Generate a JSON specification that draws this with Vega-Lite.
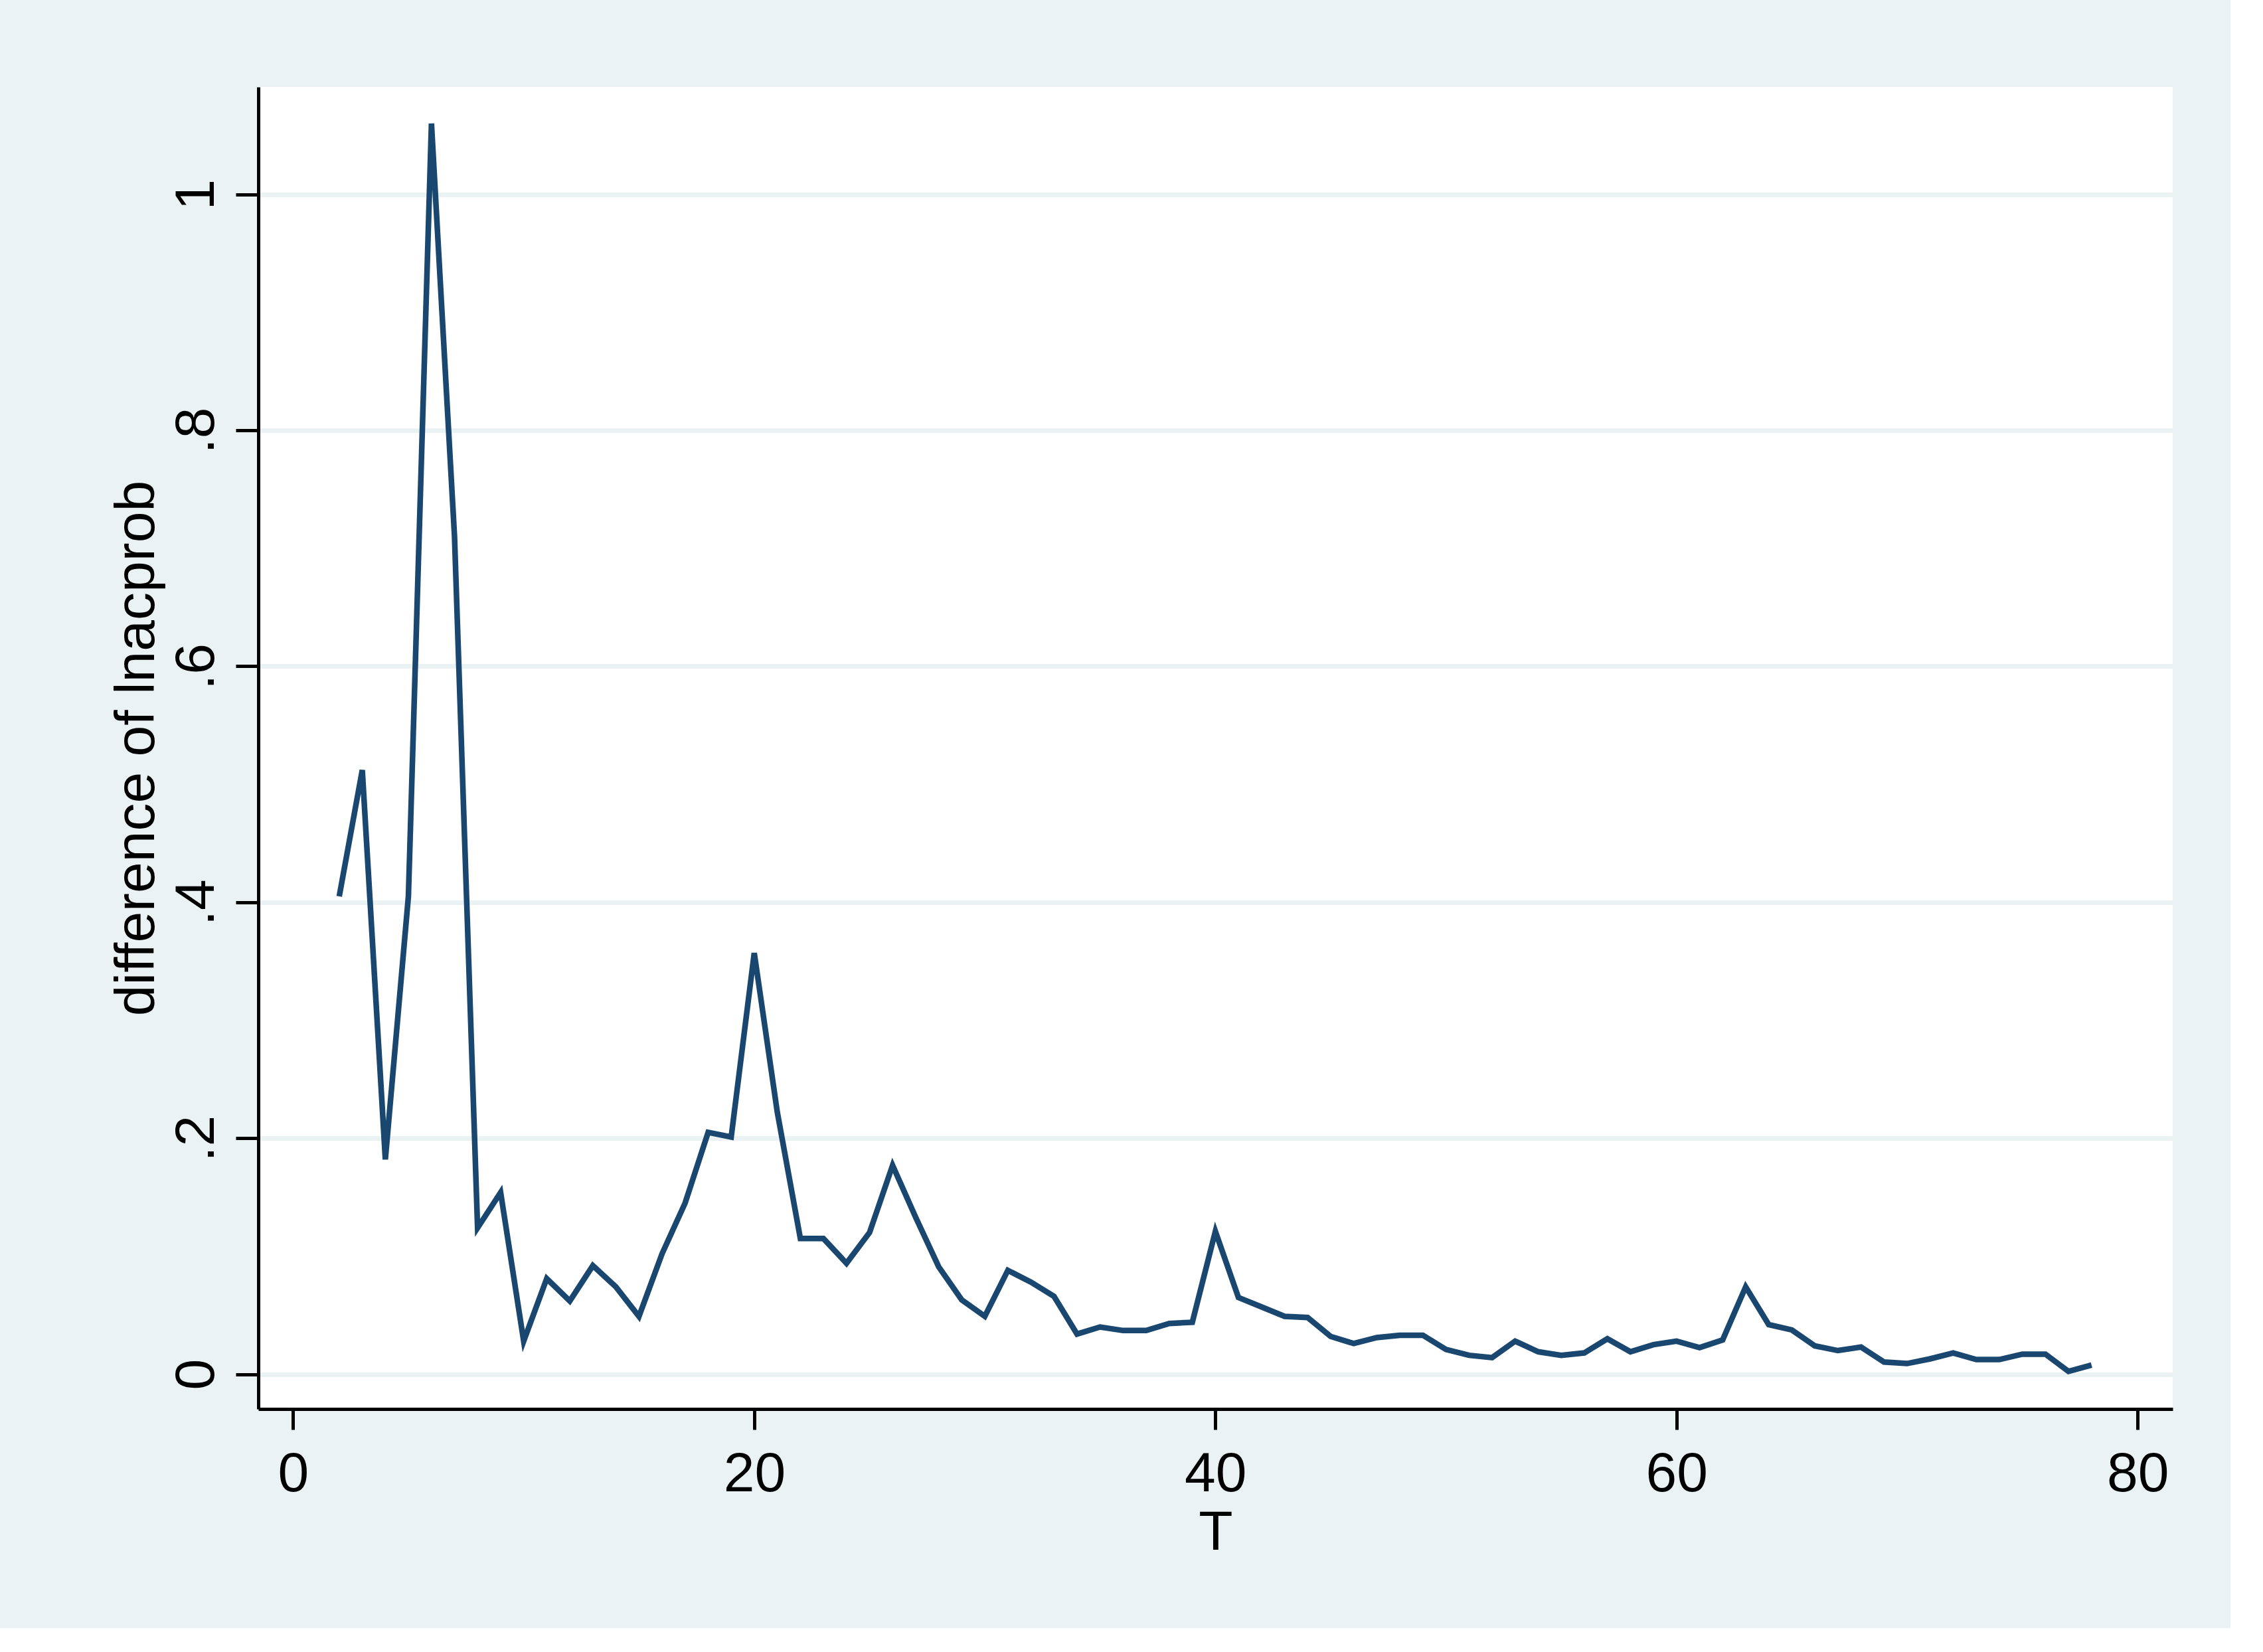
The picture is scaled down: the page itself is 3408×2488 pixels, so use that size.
{
  "$schema": "https://vega.github.io/schema/vega-lite/v6.json",
  "width": 2883,
  "height": 1991,
  "autosize": {"type": "none"},
  "padding": {"left": 389, "top": 131, "right": 87, "bottom": 330},
  "background": "#EAF2F3",
  "config": {
    "view": {"fill": "white", "stroke": null},
    "font": "Liberation Sans"
  },
  "data": {
    "values": [
      {"T": 2, "d": 0.405}, {"T": 3, "d": 0.512}, {"T": 4, "d": 0.182}, {"T": 5, "d": 0.405},
      {"T": 6, "d": 1.06}, {"T": 7, "d": 0.71}, {"T": 8, "d": 0.124}, {"T": 9, "d": 0.154},
      {"T": 10, "d": 0.028}, {"T": 11, "d": 0.081}, {"T": 12, "d": 0.062}, {"T": 13, "d": 0.092},
      {"T": 14, "d": 0.074}, {"T": 15, "d": 0.049}, {"T": 16, "d": 0.102}, {"T": 17, "d": 0.145},
      {"T": 18, "d": 0.205}, {"T": 19, "d": 0.201}, {"T": 20, "d": 0.357}, {"T": 21, "d": 0.222},
      {"T": 22, "d": 0.115}, {"T": 23, "d": 0.115}, {"T": 24, "d": 0.094}, {"T": 25, "d": 0.12},
      {"T": 26, "d": 0.177}, {"T": 27, "d": 0.133}, {"T": 28, "d": 0.091}, {"T": 29, "d": 0.063},
      {"T": 30, "d": 0.049}, {"T": 31, "d": 0.088}, {"T": 32, "d": 0.078}, {"T": 33, "d": 0.066},
      {"T": 34, "d": 0.034}, {"T": 35, "d": 0.04}, {"T": 36, "d": 0.037}, {"T": 37, "d": 0.037},
      {"T": 38, "d": 0.043}, {"T": 39, "d": 0.044}, {"T": 40, "d": 0.121}, {"T": 41, "d": 0.065},
      {"T": 42, "d": 0.057}, {"T": 43, "d": 0.049}, {"T": 44, "d": 0.048}, {"T": 45, "d": 0.032},
      {"T": 46, "d": 0.026}, {"T": 47, "d": 0.031}, {"T": 48, "d": 0.033}, {"T": 49, "d": 0.033},
      {"T": 50, "d": 0.021}, {"T": 51, "d": 0.016}, {"T": 52, "d": 0.014}, {"T": 53, "d": 0.028},
      {"T": 54, "d": 0.019}, {"T": 55, "d": 0.016}, {"T": 56, "d": 0.018}, {"T": 57, "d": 0.03},
      {"T": 58, "d": 0.019}, {"T": 59, "d": 0.025}, {"T": 60, "d": 0.028}, {"T": 61, "d": 0.0225},
      {"T": 62, "d": 0.029}, {"T": 63, "d": 0.074}, {"T": 64, "d": 0.042}, {"T": 65, "d": 0.0375},
      {"T": 66, "d": 0.024}, {"T": 67, "d": 0.02}, {"T": 68, "d": 0.023}, {"T": 69, "d": 0.0103},
      {"T": 70, "d": 0.009}, {"T": 71, "d": 0.013}, {"T": 72, "d": 0.018}, {"T": 73, "d": 0.0124},
      {"T": 74, "d": 0.0124}, {"T": 75, "d": 0.017}, {"T": 76, "d": 0.017}, {"T": 77, "d": 0.0024},
      {"T": 78, "d": 0.0077}
    ]
  },
  "mark": {"type": "line", "color": "#1A476F", "strokeWidth": 8.5, "clip": true},
  "encoding": {
    "x": {
      "field": "T",
      "type": "quantitative",
      "scale": {"domain": [-1.51, 81.52], "nice": false, "zero": false},
      "axis": {
        "values": [0, 20, 40, 60, 80],
        "grid": false,
        "domainColor": "black",
        "domainWidth": 5,
        "tickColor": "black",
        "tickWidth": 5,
        "tickSize": 31,
        "labelFontSize": 84,
        "labelColor": "black",
        "labelPadding": 26,
        "labelFlush": false,
        "title": "T",
        "titleFontSize": 84,
        "titleFontWeight": "normal",
        "titleColor": "black",
        "titlePadding": 5
      }
    },
    "y": {
      "field": "d",
      "type": "quantitative",
      "scale": {"domain": [-0.0295, 1.091], "nice": false, "zero": false},
      "axis": {
        "values": [0, 0.2, 0.4, 0.6, 0.8, 1],
        "labelExpr": "datum.value == 0 ? '0' : replace(format(datum.value, '~g'), '0.', '.')",
        "grid": true,
        "gridColor": "#EAF2F3",
        "gridWidth": 7,
        "domainColor": "black",
        "domainWidth": 5,
        "tickColor": "black",
        "tickWidth": 5,
        "tickSize": 34,
        "labelAngle": -90,
        "labelAlign": "center",
        "labelBaseline": "alphabetic",
        "labelFontSize": 84,
        "labelColor": "black",
        "labelPadding": 34,
        "labelFlush": false,
        "title": "difference of lnacprob",
        "titleFontSize": 84,
        "titleFontWeight": "normal",
        "titleColor": "black",
        "titlePadding": 5
      }
    }
  }
}
